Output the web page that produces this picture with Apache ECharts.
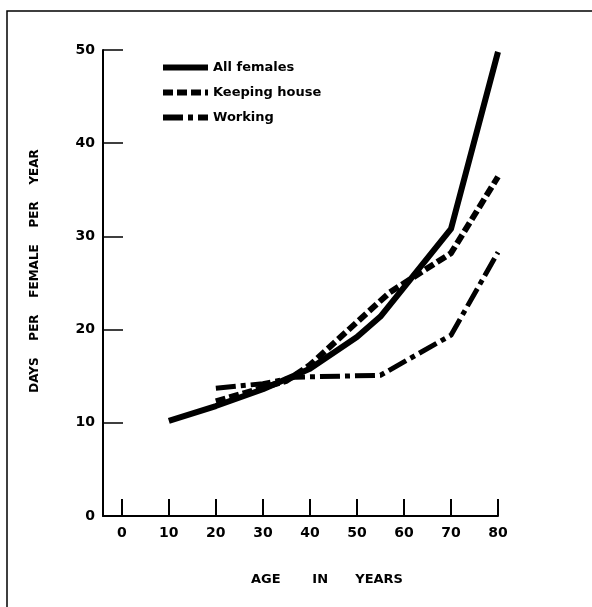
<!DOCTYPE html>
<html>
<head>
<meta charset="utf-8">
<script src="https://cdn.jsdelivr.net/npm/echarts@6/dist/echarts.min.js"></script>
<style>
html,body{margin:0;padding:0;background:#fff;}
#chart{width:592px;height:607px;}
</style>
</head>
<body>
<div id="chart"></div>
<script>
// ---- data ----
var xTicks = [0, 10, 20, 30, 40, 50, 60, 70, 80];
var yTicks = [0, 10, 20, 30, 40, 50];

var allFemalesAge  = [10, 20, 30, 40, 50, 55, 70, 80];
var allFemalesDays = [10.2, 11.8, 13.6, 15.8, 19.2, 21.4, 30.8, 49.8];

var keepingHouseAge  = [20, 35, 40, 50, 57, 70, 80];
var keepingHouseDays = [12.3, 14.5, 16.2, 20.8, 24.0, 28.2, 36.4];

var workingAge  = [20, 30, 37, 55, 70, 80];
var workingDays = [13.7, 14.2, 14.9, 15.1, 19.4, 28.3];

var seriesNames = ['All females', 'Keeping house', 'Working'];
var xTitle = 'AGE       IN      YEARS';
var yTitle = 'DAYS    PER    FEMALE    PER    YEAR';

function pairs(xs, ys) { return xs.map(function (x, i) { return [x, ys[i]]; }); }

var FONT = '"DejaVu Sans", sans-serif';
var chart = echarts.init(document.getElementById('chart'), null, {renderer: 'canvas'});

var option = {
  backgroundColor: '#ffffff',
  animation: false,
  grid: {left: 103, right: 94, top: 50, bottom: 91, containLabel: false},
  legend: {
    orient: 'vertical',
    left: 155,
    top: 56,
    itemWidth: 45,
    itemHeight: 12,
    itemGap: 12,
    icon: 'inherit',
    lineStyle: {width: 6},
    itemStyle: {opacity: 0},
    textStyle: {color: '#000', fontFamily: FONT, fontWeight: 'bold', fontSize: 13},
    data: seriesNames
  },
  xAxis: {
    type: 'value',
    min: -4,
    max: 80,
    splitLine: {show: false},
    axisLine: {show: true, onZero: false, lineStyle: {color: '#000', width: 2}},
    axisTick: {show: true, inside: true, length: 17, lineStyle: {color: '#000', width: 2}, customValues: xTicks},
    axisLabel: {color: '#000', fontFamily: FONT, fontWeight: 'bold', fontSize: 14, margin: 10, customValues: xTicks}
  },
  yAxis: {
    type: 'value',
    min: 0,
    max: 50,
    interval: 10,
    splitLine: {show: false},
    axisLine: {show: true, onZero: false, lineStyle: {color: '#000', width: 2}},
    axisTick: {show: true, inside: true, length: 20, lineStyle: {color: '#000', width: 1.5}},
    axisLabel: {color: '#000', fontFamily: FONT, fontWeight: 'bold', fontSize: 14, margin: 8}
  },
  graphic: [
    {type: 'polyline', silent: true, shape: {points: [[7, 607], [7, 11], [592, 11]]},
     style: {stroke: '#000', lineWidth: 1.5, fill: null}},
    {type: 'text', silent: true, x: 327, y: 580,
     style: {text: xTitle, fill: '#000', font: 'bold 13px ' + FONT, align: 'center', verticalAlign: 'middle'}},
    {type: 'text', silent: true, x: 35, y: 271, rotation: Math.PI / 2,
     style: {text: yTitle, fill: '#000', font: 'bold 12px ' + FONT, align: 'center', verticalAlign: 'middle'}}
  ],
  series: [
    {
      name: seriesNames[0], type: 'line', symbol: 'none', smooth: false,
      data: pairs(allFemalesAge, allFemalesDays),
      lineStyle: {color: '#000', width: 6, type: 'solid', cap: 'butt', join: 'round'},
      itemStyle: {color: '#000'}
    },
    {
      name: seriesNames[1], type: 'line', symbol: 'none', smooth: false,
      data: pairs(keepingHouseAge, keepingHouseDays),
      lineStyle: {color: '#000', width: 6, type: [10, 4], cap: 'butt', join: 'round'},
      itemStyle: {color: '#000'}
    },
    {
      name: seriesNames[2], type: 'line', symbol: 'none', smooth: false,
      data: pairs(workingAge, workingDays),
      lineStyle: {color: '#000', width: 5, type: [20, 5, 5, 5], cap: 'butt', join: 'round'},
      itemStyle: {color: '#000'}
    }
  ]
};
chart.setOption(option);
</script>
</body>
</html>
